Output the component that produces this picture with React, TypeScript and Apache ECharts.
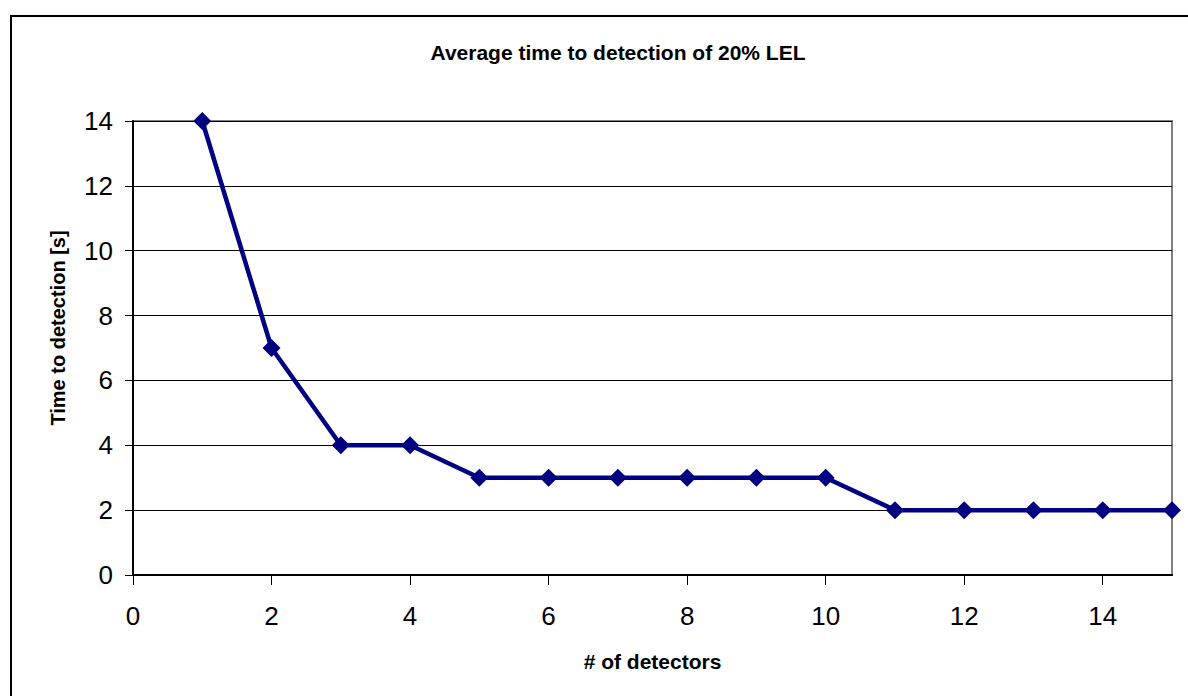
import React, { useEffect, useRef } from "react";
import * as echarts from "echarts";

const detectors = [1, 2, 3, 4, 5, 6, 7, 8, 9, 10, 11, 12, 13, 14, 15];
const timeToDetection = [14, 7, 4, 4, 3, 3, 3, 3, 3, 3, 2, 2, 2, 2, 2];
const xTicks = [0, 2, 4, 6, 8, 10, 12, 14];

const FONT = "'Liberation Sans', Arial, sans-serif";

export default function App() {
  const ref = useRef<HTMLDivElement>(null);
  useEffect(() => {
    const chart = echarts.init(ref.current!, null, { renderer: "svg" });
    chart.setOption({
      animation: false,
      backgroundColor: "#ffffff",
      textStyle: { fontFamily: FONT },
      title: {
        text: "Average time to detection of 20% LEL",
        left: 613,
        top: 37,
        textAlign: "center",
        textStyle: { fontSize: 21, fontWeight: "bold", color: "#000", fontFamily: FONT },
      },
      graphic: [
        {
          type: "rect",
          shape: { x: 11, y: 16, width: 1200, height: 700 },
          style: { fill: "none", stroke: "#000", lineWidth: 2 },
          z: 100,
          silent: true,
        },
        {
          type: "text",
          x: 58,
          y: 328,
          rotation: Math.PI / 2,
          style: {
            text: "Time to detection [s]",
            fontSize: 20,
            fontWeight: "bold",
            fontFamily: FONT,
            fill: "#000",
            align: "center",
            verticalAlign: "middle",
          },
        },
      ],
      grid: {
        left: 133,
        top: 121,
        right: 16,
        bottom: 121,
        show: true,
        borderColor: "#808080",
        borderWidth: 2,
        backgroundColor: "#ffffff",
      },
      xAxis: {
        type: "value",
        min: 0,
        max: 15,
        interval: 2,
        name: "# of detectors",
        nameLocation: "middle",
        nameGap: 76,
        nameTextStyle: { fontSize: 21, fontWeight: "bold", color: "#000", fontFamily: FONT },
        axisLine: { show: true, lineStyle: { color: "#000", width: 2 } },
        axisTick: { show: true, length: 10, customValues: xTicks, lineStyle: { color: "#000", width: 1 } },
        axisLabel: { customValues: xTicks, fontSize: 26, color: "#000", margin: 28, fontFamily: FONT },
        splitLine: { show: false },
      },
      yAxis: {
        type: "value",
        min: 0,
        max: 14,
        interval: 2,
        axisLine: { show: true, lineStyle: { color: "#000", width: 2 } },
        axisTick: { show: true, length: 8, lineStyle: { color: "#000", width: 1 } },
        axisLabel: { fontSize: 26, color: "#000", margin: 20, fontFamily: FONT },
        splitLine: { show: true, lineStyle: { color: "#000", width: 1 } },
      },
      series: [
        {
          type: "line",
          data: detectors.map((d, i) => [d, timeToDetection[i]]),
          symbol: "diamond",
          symbolSize: 18,
          itemStyle: { color: "#000080" },
          lineStyle: { color: "#000080", width: 4.5 },
          clip: false,
          z: 10,
        },
      ],
    });
    return () => chart.dispose();
  }, []);
  return (
    <div
      ref={ref}
      style={{ position: "fixed", left: 0, top: 0, width: 1188, height: 696 }}
    />
  );
}
